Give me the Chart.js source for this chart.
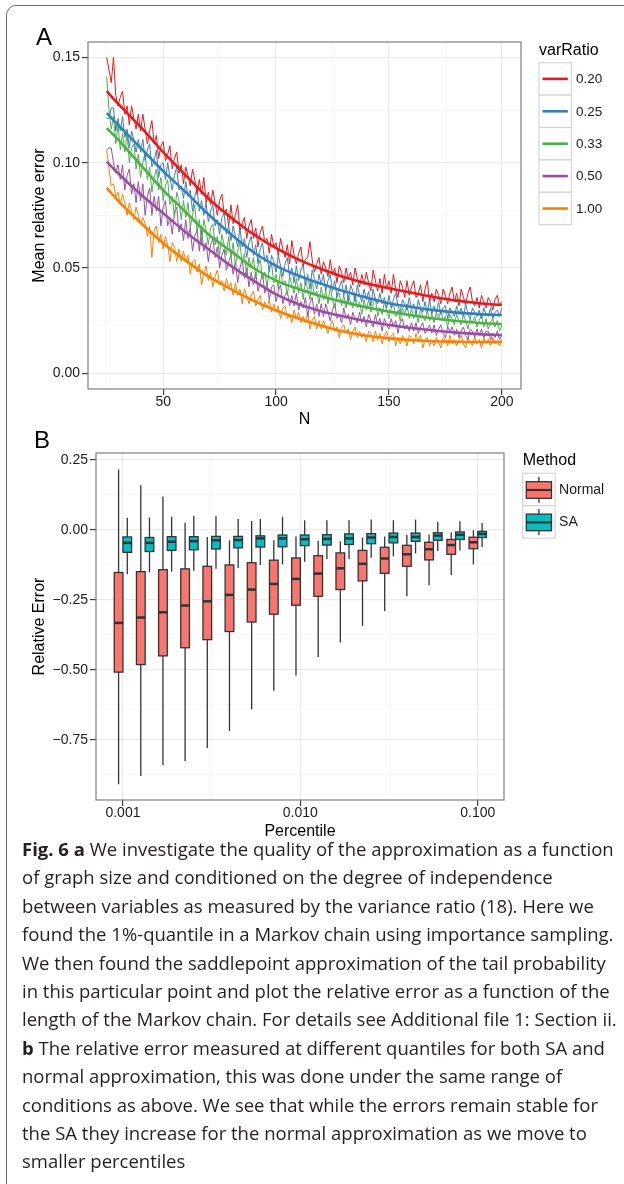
<!DOCTYPE html>
<html>
<head>
<meta charset="utf-8">
<script src="https://cdn.jsdelivr.net/npm/chart.js@4.4.1/dist/chart.umd.min.js"></script>
<style>
html, body { margin: 0; padding: 0; background: #fff; }
#page { position: relative; width: 624px; height: 1184px; overflow: hidden; }
#frame { position: absolute; left: 6px; top: 5px; width: 700px; height: 1300px;
  border: 1.5px solid #6b6b6b; border-radius: 10px; }
.letter { position: absolute; font-family: 'Liberation Sans', Arial, sans-serif;
  font-size: 24px; line-height: 24px; color: #000; }
#wrapA { position: absolute; left: 0; top: 0; }
#wrapB { position: absolute; left: 0; top: 430px; }
#caption { position: absolute; left: 22px; top: 835px; font-family: 'Open Sans', sans-serif;
  font-size: 18.5px; line-height: 28.4px; color: #231f20; white-space: nowrap; }
#caption b { font-weight: 700; }
</style>
</head>
<body>
<div id="page">
  <div id="frame"></div>
  <div id="wrapA"><canvas id="chartA" width="624" height="430"></canvas></div>
  <div id="wrapB"><canvas id="chartB" width="624" height="411"></canvas></div>
  <div class="letter" style="left:36px;top:25px;">A</div>
  <div class="letter" style="left:34px;top:428px;">B</div>
  <div id="caption"><b>Fig. 6 a</b> We investigate the quality of the approximation as a function<br>of graph size and conditioned on the degree of independence<br>between variables as measured by the variance ratio (18). Here we<br>found the 1%-quantile in a Markov chain using importance sampling.<br>We then found the saddlepoint approximation of the tail probability<br>in this particular point and plot the relative error as a function of the<br>length of the Markov chain. For details see Additional file 1: Section ii.<br><b>b</b> The relative error measured at different quantiles for both SA and<br>normal approximation, this was done under the same range of<br>conditions as above. We see that while the errors remain stable for<br>the SA they increase for the normal approximation as we move to<br>smaller percentiles</div>
</div>
<script>
// ---- panel A data ----
const nValues = [25,26,27,28,29,30,31,32,33,34,35,36,37,38,39,40,41,42,43,44,45,46,47,48,49,50,
  51,52,53,54,55,56,57,58,59,60,61,62,63,64,65,66,67,68,69,70,71,72,73,74,75,76,77,78,79,80,
  81,82,83,84,85,86,87,88,89,90,91,92,93,94,95,96,97,98,99,100,101,102,103,104,105,106,107,108,109,110,
  111,112,113,114,115,116,117,118,119,120,121,122,123,124,125,126,127,128,129,130,131,132,133,134,135,136,137,138,139,140,
  141,142,143,144,145,146,147,148,149,150,151,152,153,154,155,156,157,158,159,160,161,162,163,164,165,166,167,168,169,170,
  171,172,173,174,175,176,177,178,179,180,181,182,183,184,185,186,187,188,189,190,191,192,193,194,195,196,197,198,199,200];

const ratioLabels = ['0.20', '0.25', '0.33', '0.50', '1.00'];

// mean relative error per N, one array per varRatio
const errR020 = [.150,.144,.138,.150,.132,
  .127,.131,.134,.123,.127,.118,.127,.121,.116,.123,
  .115,.123,.116,.109,.115,.120,.109,.113,.102,.108,
  .110,.101,.104,.108,.097,.102,.105,.095,.099,.090,
  .098,.094,.089,.097,.092,.085,.092,.085,.093,.081,
  .086,.080,.087,.081,.075,.082,.085,.076,.078,.070,
  .080,.071,.075,.080,.068,.071,.074,.064,.070,.073,
  .064,.069,.060,.067,.070,.062,.064,.057,.066,.060,
  .062,.056,.064,.059,.055,.061,.052,.063,.056,.052,
  .057,.060,.051,.054,.055,.0625,.054,.048,.052,.055,
  .047,.053,.050,.046,.054,.047,.050,.043,.051,.048,
  .043,.050,.045,.048,.042,.050,.045,.041,.047,.042,
  .048,.043,.039,.049,.044,.039,.045,.038,.047,.040,
  .044,.038,.047,.040,.036,.044,.041,.036,.044,.037,
  .041,.044,.036,.038,.042,.034,.040,.044,.034,.038,
  .034,.040,.037,.033,.040,.037,.033,.038,.041,.034,
  .038,.032,.040,.036,.033,.038,.041,.034,.032,.036,
  .031,.037,.034,.031,.036,.034,.030,.035,.037,.032,.034];
const errR025 = [.121,.121,.126,.126,.115,
  .121,.115,.122,.112,.116,.107,.115,.111,.105,.111,
  .105,.111,.101,.106,.109,.098,.101,.106,.093,.099,
  .100,.092,.100,.093,.087,.094,.098,.087,.089,.083,
  .091,.084,.087,.077,.084,.088,.077,.082,.075,.081,
  .072,.077,.080,.070,.073,.066,.074,.076,.066,.070,
  .063,.070,.065,.060,.069,.060,.064,.055,.062,.065,
  .056,.061,.052,.059,.062,.053,.056,.048,.056,.053,
  .048,.056,.051,.046,.052,.055,.046,.050,.043,.051,
  .044,.049,.052,.042,.047,.040,.049,.045,.040,.047,
  .042,.047,.039,.044,.047,.039,.044,.036,.041,.044,
  .037,.042,.034,.042,.039,.034,.042,.037,.034,.040,
  .035,.039,.032,.040,.035,.033,.038,.033,.036,.031,
  .037,.031,.035,.038,.032,.029,.035,.033,.030,.036,
  .031,.033,.028,.035,.031,.029,.034,.029,.035,.028,
  .032,.029,.034,.028,.031,.032,.026,.031,.029,.027,
  .032,.028,.031,.027,.033,.028,.026,.031,.029,.027,
  .030,.026,.031,.028,.027,.031,.026,.029,.030,.027,.031];
const errR033 = [.141,.125,.116,.122,.109,
  .118,.106,.114,.105,.114,.100,.107,.109,.097,.104,
  .093,.100,.105,.092,.098,.086,.093,.097,.087,.093,
  .082,.089,.092,.080,.084,.074,.086,.082,.073,.082,
  .074,.081,.069,.075,.080,.067,.073,.062,.073,.068,
  .061,.069,.071,.061,.065,.056,.066,.061,.056,.065,
  .055,.062,.051,.058,.062,.052,.057,.046,.055,.050,
  .055,.045,.051,.054,.045,.048,.041,.050,.052,.043,
  .047,.040,.049,.042,.044,.037,.046,.042,.038,.045,
  .038,.043,.035,.044,.040,.035,.044,.037,.039,.033,
  .041,.035,.039,.033,.041,.035,.031,.037,.038,.032,
  .037,.031,.037,.034,.031,.038,.031,.034,.028,.035,
  .030,.035,.029,.033,.036,.027,.031,.028,.034,.030,
  .026,.031,.033,.027,.030,.025,.031,.028,.033,.026,
  .031,.026,.029,.024,.031,.027,.025,.030,.025,.028,
  .024,.029,.026,.030,.025,.027,.022,.028,.026,.023,
  .028,.025,.023,.028,.025,.021,.026,.024,.027,.022,
  .025,.028,.022,.026,.021,.024,.026,.022,.025,.020,.023];
const errR050 = [.106,.107,.107,.100,.095,
  .099,.092,.099,.087,.094,.097,.085,.090,.081,.091,
  .082,.090,.075,.084,.088,.075,.084,.077,.084,.070,
  .079,.082,.070,.074,.066,.076,.079,.067,.071,.063,
  .073,.064,.069,.058,.065,.068,.058,.068,.058,.062,
  .053,.061,.064,.055,.060,.050,.056,.059,.049,.053,
  .056,.047,.053,.043,.050,.054,.045,.050,.041,.048,
  .042,.048,.039,.043,.048,.038,.043,.035,.041,.042,
  .034,.039,.042,.033,.037,.039,.032,.037,.032,.038,
  .030,.034,.031,.036,.027,.033,.036,.028,.033,.027,
  .033,.027,.033,.029,.025,.030,.033,.026,.028,.024,
  .031,.026,.028,.023,.029,.026,.024,.029,.024,.027,
  .022,.028,.025,.022,.028,.023,.026,.020,.026,.023,
  .021,.026,.022,.025,.019,.024,.026,.021,.023,.020,
  .024,.020,.024,.019,.022,.024,.019,.021,.023,.019,
  .023,.018,.021,.023,.019,.017,.022,.020,.022,.018,
  .021,.017,.020,.022,.018,.016,.021,.020,.017,.021,
  .018,.021,.017,.020,.020,.016,.019,.017,.020,.016,.018];
const errR100 = [.106,.097,.089,.090,.084,
  .086,.080,.085,.081,.075,.081,.077,.073,.079,.075,
  .071,.074,.071,.065,.070,.055,.068,.070,.062,.066,
  .059,.065,.061,.053,.062,.060,.053,.059,.053,.058,
  .053,.056,.047,.053,.054,.048,.052,.042,.048,.051,
  .044,.048,.041,.046,.049,.042,.044,.039,.045,.041,
  .043,.037,.043,.037,.040,.033,.040,.037,.033,.037,
  .039,.032,.035,.037,.030,.034,.031,.035,.029,.033,
  .029,.032,.026,.031,.032,.026,.028,.024,.030,.026,
  .029,.024,.027,.024,.029,.021,.025,.027,.021,.025,
  .021,.025,.022,.019,.023,.025,.020,.022,.017,.022,
  .023,.019,.021,.016,.020,.022,.017,.020,.017,.019,
  .015,.020,.019,.015,.020,.016,.019,.014,.018,.020,
  .015,.018,.019,.013,.017,.014,.018,.016,.013,.018,
  .017,.014,.019,.015,.018,.012,.016,.017,.013,.016,
  .013,.017,.015,.012,.017,.016,.013,.018,.014,.016,
  .013,.016,.018,.014,.012,.017,.015,.013,.017,.014,
  .016,.012,.017,.014,.016,.013,.017,.014,.015,.013,.016];

// smoothed fits
const fitN = [25,30,40,50,60,70,80,90,100,110,120,130,140,150,160,170,180,190,200];
const fitR020 = [.134,.128,.117,.105,.094,.083,.074,.066,.0594,.054,.0495,.0457,.0427,.0404,.0382,.0362,.0345,.0333,.0324];
const fitR025 = [.1235,.118,.107,.096,.086,.0755,.066,.0575,.051,.0463,.0425,.039,.036,.0333,.0315,.030,.0288,.0281,.0277];
const fitR033 = [.1164,.111,.099,.087,.0765,.066,.058,.050,.044,.040,.0366,.0338,.0314,.0293,.0276,.026,.0248,.0239,.0234];
const fitR050 = [.1005,.095,.085,.076,.067,.059,.051,.044,.0375,.0328,.0295,.027,.0248,.0229,.0215,.0203,.0193,.0186,.0182];
const fitR100 = [.088,.082,.0715,.0618,.0535,.046,.040,.0345,.0298,.026,.0226,.0198,.0178,.0166,.0158,.0152,.015,.0149,.015];

const aXMajor = [50, 100, 150, 200];
const aXMinor = [25, 75, 125, 175];
const aYMajor = [0, 0.05, 0.10, 0.15];
const aYMinor = [0.025, 0.075, 0.125];

// ---- panel B data ----
const methods = ['Normal', 'SA'];
const pctValues = [0.001,0.001334,0.001778,0.002371,0.003162,0.004217,0.005623,0.007499,0.01,
  0.01334,0.01778,0.02371,0.03162,0.04217,0.05623,0.07499,0.1];
const normLo  = [-0.909,-0.879,-0.840,-0.826,-0.779,-0.718,-0.641,-0.575,-0.520,-0.454,-0.402,-0.343,-0.290,-0.237,-0.198,-0.161,-0.123];
const normQ1  = [-0.508,-0.481,-0.450,-0.421,-0.392,-0.363,-0.329,-0.301,-0.269,-0.237,-0.213,-0.182,-0.155,-0.130,-0.107,-0.087,-0.067];
const normMed = [-0.332,-0.313,-0.294,-0.270,-0.255,-0.232,-0.213,-0.193,-0.175,-0.156,-0.137,-0.121,-0.102,-0.087,-0.069,-0.054,-0.044];
const normQ3  = [-0.152,-0.149,-0.142,-0.139,-0.130,-0.125,-0.117,-0.108,-0.100,-0.092,-0.082,-0.073,-0.062,-0.055,-0.044,-0.034,-0.026];
const normHi  = [0.216,0.160,0.120,0.026,-0.025,-0.037,0.032,-0.037,-0.023,-0.039,-0.040,-0.027,-0.023,-0.017,-0.016,-0.008,-0.001];
const saLo  = [-0.158,-0.152,-0.149,-0.146,-0.139,-0.136,-0.125,-0.123,-0.114,-0.104,-0.104,-0.099,-0.094,-0.084,-0.075,-0.073,-0.061];
const saQ1  = [-0.080,-0.077,-0.073,-0.071,-0.068,-0.064,-0.061,-0.060,-0.056,-0.054,-0.052,-0.049,-0.046,-0.041,-0.037,-0.034,-0.027];
const saMed = [-0.046,-0.046,-0.042,-0.040,-0.037,-0.036,-0.030,-0.030,-0.033,-0.032,-0.030,-0.027,-0.025,-0.025,-0.020,-0.017,-0.014];
const saQ3  = [-0.025,-0.027,-0.024,-0.024,-0.023,-0.023,-0.021,-0.018,-0.018,-0.017,-0.014,-0.013,-0.011,-0.011,-0.010,-0.007,-0.005];
const saHi  = [0.044,0.044,0.047,0.051,0.049,0.039,0.039,0.047,0.035,0.035,0.035,0.037,0.035,0.037,0.029,0.031,0.025];

const bXMajor = [0.001, 0.01, 0.1];
const bXMinor = [0.0031623, 0.031623];
const bYMajor = [-0.75, -0.5, -0.25, 0, 0.25];
const bYMinor = [-0.875, -0.625, -0.375, -0.125, 0.125];

// ---- styles ----
const ratioColors = ['#E41A1C', '#377EB8', '#4DAF4A', '#984EA3', '#FF7F00'];
const methodColors = ['#F8766D', '#00BFC4'];
const FONT = "'Liberation Sans', Arial, Helvetica, sans-serif";
const BOX_DEC = 0.049; // box width in decades

Chart.defaults.font.family = FONT;
Chart.defaults.color = '#1a1a1a';
Chart.defaults.animation = false;

const minus = s => s.replace('-', '\u2212');

function ggScale(o) {
  const left = o.position === 'left';
  return {
    type: o.type || 'linear',
    position: o.position,
    min: o.min, max: o.max, bounds: 'data',
    afterBuildTicks: s => {
      s.ticks = o.major.concat(o.minor).sort((a, b) => a - b)
        .map(v => ({ value: v, isMajor: o.major.includes(v) }));
    },
    afterFit: s => { if (left) s.width = o.size; else s.height = o.size; },
    grid: {
      color: c => (c.tick && c.tick.isMajor) ? '#EBEBEB' : '#F5F5F5',
      lineWidth: c => (c.tick && c.tick.isMajor) ? 1.2 : 0.8,
      tickColor: c => (c.tick && c.tick.isMajor) ? '#333333' : 'rgba(0,0,0,0)',
      tickWidth: 1.1, tickLength: 6
    },
    border: { display: false },
    ticks: {
      autoSkip: false, maxRotation: 0, padding: left ? 2 : 0,
      font: { size: 14, lineHeight: 1 }, color: '#1a1a1a',
      callback: (v, i, t) => t[i].isMajor ? o.fmt(v) : ''
    },
    title: { display: true, text: o.title, color: '#000', font: { size: 16 }, padding: o.titlePad }
  };
}

const panelBorder = {
  id: 'panelBorder',
  afterDatasetsDraw(chart) {
    const a = chart.chartArea, ctx = chart.ctx;
    ctx.save();
    ctx.strokeStyle = '#7f7f7f';
    ctx.lineWidth = 1.2;
    ctx.strokeRect(a.left, a.top, a.right - a.left, a.bottom - a.top);
    ctx.restore();
  }
};

function legendFrame(ctx, x, y, s) {
  ctx.fillStyle = '#fff';
  ctx.fillRect(x, y, s, s);
  ctx.strokeStyle = '#d4d4d4';
  ctx.lineWidth = 1.2;
  ctx.strokeRect(x, y, s, s);
}

const legendA = {
  id: 'legendA',
  afterDraw(chart) {
    const ctx = chart.ctx, a = chart.chartArea;
    const x0 = a.right + 18, top = a.top + 20.7, key = 32.4;
    ctx.save();
    ctx.textBaseline = 'middle';
    ctx.textAlign = 'left';
    ctx.fillStyle = '#000';
    ctx.font = '16px ' + FONT;
    ctx.fillText('varRatio', x0, a.top + 8.5);
    ratioLabels.forEach((lab, k) => {
      const y = top + k * key;
      legendFrame(ctx, x0, y, key);
      ctx.strokeStyle = ratioColors[k];
      ctx.lineWidth = 2.6;
      ctx.beginPath();
      ctx.moveTo(x0 + 3.5, y + key / 2);
      ctx.lineTo(x0 + key - 3.5, y + key / 2);
      ctx.stroke();
      ctx.fillStyle = '#1a1a1a';
      ctx.font = '13.5px ' + FONT;
      ctx.fillText(lab, x0 + key + 4.5, y + key / 2 + 0.5);
    });
    ctx.restore();
  }
};

// ---- chart A ----
const seriesA = [errR020, errR025, errR033, errR050, errR100];
const fitsA = [fitR020, fitR025, fitR033, fitR050, fitR100];
const datasetsA = [];
ratioLabels.forEach((lab, k) => {
  datasetsA.push({
    label: lab, data: nValues.map((n, i) => ({ x: n, y: seriesA[k][i] })),
    borderColor: ratioColors[k], borderWidth: 1, pointRadius: 0, tension: 0, order: 2
  });
});
ratioLabels.forEach((lab, k) => {
  datasetsA.push({
    label: lab + ' fit', data: fitN.map((n, i) => ({ x: n, y: fitsA[k][i] })),
    borderColor: ratioColors[k], borderWidth: 2.6, pointRadius: 0,
    cubicInterpolationMode: 'monotone', order: 1
  });
});

new Chart(document.getElementById('chartA'), {
  type: 'line',
  data: { datasets: datasetsA },
  options: {
    responsive: false,
    layout: { padding: { left: 0, top: 42, right: 103, bottom: 0 } },
    plugins: { legend: { display: false }, tooltip: { enabled: false } },
    scales: {
      x: ggScale({ position: 'bottom', min: 16.7, max: 208.5, major: aXMajor, minor: aXMinor,
        size: 41, fmt: v => String(v), title: 'N', titlePad: { top: 0, bottom: 0.4 } }),
      y: ggScale({ position: 'left', min: -0.00745, max: 0.1573, major: aYMajor, minor: aYMinor,
        size: 88, fmt: v => v.toFixed(2), title: 'Mean relative error', titlePad: { top: 30.4, bottom: 0 } })
    }
  },
  plugins: [panelBorder, legendA]
});

// ---- chart B ----
const boxSeries = [
  { lo: normLo, q1: normQ1, med: normMed, q3: normQ3, hi: normHi },
  { lo: saLo, q1: saQ1, med: saMed, q3: saQ3, hi: saHi }
];

const boxplots = {
  id: 'boxplots',
  afterDatasetsDraw(chart) {
    const ctx = chart.ctx, xs = chart.scales.x, ys = chart.scales.y;
    const decPx = xs.getPixelForValue(0.1) - xs.getPixelForValue(0.01);
    const w = BOX_DEC * decPx;
    ctx.save();
    ctx.beginPath();
    const a = chart.chartArea;
    ctx.rect(a.left, a.top, a.right - a.left, a.bottom - a.top);
    ctx.clip();
    boxSeries.forEach((s, si) => {
      pctValues.forEach((p, i) => {
        const gx = xs.getPixelForValue(p);
        const left = si === 0 ? gx - w : gx;
        const cx = left + w / 2;
        const yLo = ys.getPixelForValue(s.lo[i]), yHi = ys.getPixelForValue(s.hi[i]);
        const yQ1 = ys.getPixelForValue(s.q1[i]), yQ3 = ys.getPixelForValue(s.q3[i]);
        const yMed = ys.getPixelForValue(s.med[i]);
        ctx.strokeStyle = '#333333';
        ctx.lineWidth = 1.3;
        ctx.beginPath();
        ctx.moveTo(cx, yHi); ctx.lineTo(cx, yLo);
        ctx.stroke();
        ctx.fillStyle = methodColors[si];
        ctx.fillRect(left, yQ3, w, yQ1 - yQ3);
        ctx.strokeRect(left, yQ3, w, yQ1 - yQ3);
        ctx.lineWidth = 2.5;
        ctx.beginPath();
        ctx.moveTo(left, yMed); ctx.lineTo(left + w, yMed);
        ctx.stroke();
      });
    });
    ctx.restore();
  }
};

const legendB = {
  id: 'legendB',
  afterDraw(chart) {
    const ctx = chart.ctx, a = chart.chartArea;
    const x0 = a.right + 18.7, top = a.top + 20.3, key = 32.4;
    ctx.save();
    ctx.textBaseline = 'middle';
    ctx.textAlign = 'left';
    ctx.fillStyle = '#000';
    ctx.font = '16px ' + FONT;
    ctx.fillText('Method', x0, a.top + 7.7);
    methods.forEach((m, k) => {
      const y = top + k * key;
      legendFrame(ctx, x0, y, key);
      const cx = x0 + key / 2;
      ctx.strokeStyle = '#333333';
      ctx.lineWidth = 1.3;
      ctx.beginPath();
      ctx.moveTo(cx, y + 3.4); ctx.lineTo(cx, y + 29.4);
      ctx.stroke();
      ctx.fillStyle = methodColors[k];
      ctx.fillRect(x0 + 3.6, y + 8.4, key - 7.2, 16.6);
      ctx.strokeRect(x0 + 3.6, y + 8.4, key - 7.2, 16.6);
      ctx.lineWidth = 2.2;
      ctx.beginPath();
      ctx.moveTo(x0 + 3.6, y + 16.7); ctx.lineTo(x0 + key - 3.6, y + 16.7);
      ctx.stroke();
      ctx.fillStyle = '#1a1a1a';
      ctx.font = '14px ' + FONT;
      ctx.fillText(m, x0 + key + 4, y + key / 2 + 0.5);
    });
    ctx.restore();
  }
};

new Chart(document.getElementById('chartB'), {
  type: 'scatter',
  data: {
    datasets: methods.map((m, k) => ({
      label: m, data: pctValues.map((p, i) => ({ x: p, y: boxSeries[k].med[i] })),
      pointRadius: 0, backgroundColor: methodColors[k]
    }))
  },
  options: {
    responsive: false,
    layout: { padding: { left: 0, top: 23, right: 120, bottom: 0 } },
    plugins: { legend: { display: false }, tooltip: { enabled: false } },
    scales: {
      x: ggScale({ type: 'logarithmic', position: 'bottom', min: 0.000705, max: 0.1406,
        major: bXMajor, minor: bXMinor, size: 41, fmt: v => v.toFixed(3),
        title: 'Percentile', titlePad: { top: 0, bottom: 0 } }),
      y: ggScale({ position: 'left', min: -0.965, max: 0.275, major: bYMajor, minor: bYMinor,
        size: 96, fmt: v => minus(v.toFixed(2)), title: 'Relative Error', titlePad: { top: 30.4, bottom: 0 } })
    }
  },
  plugins: [panelBorder, boxplots, legendB]
});
</script>
</body>
</html>
